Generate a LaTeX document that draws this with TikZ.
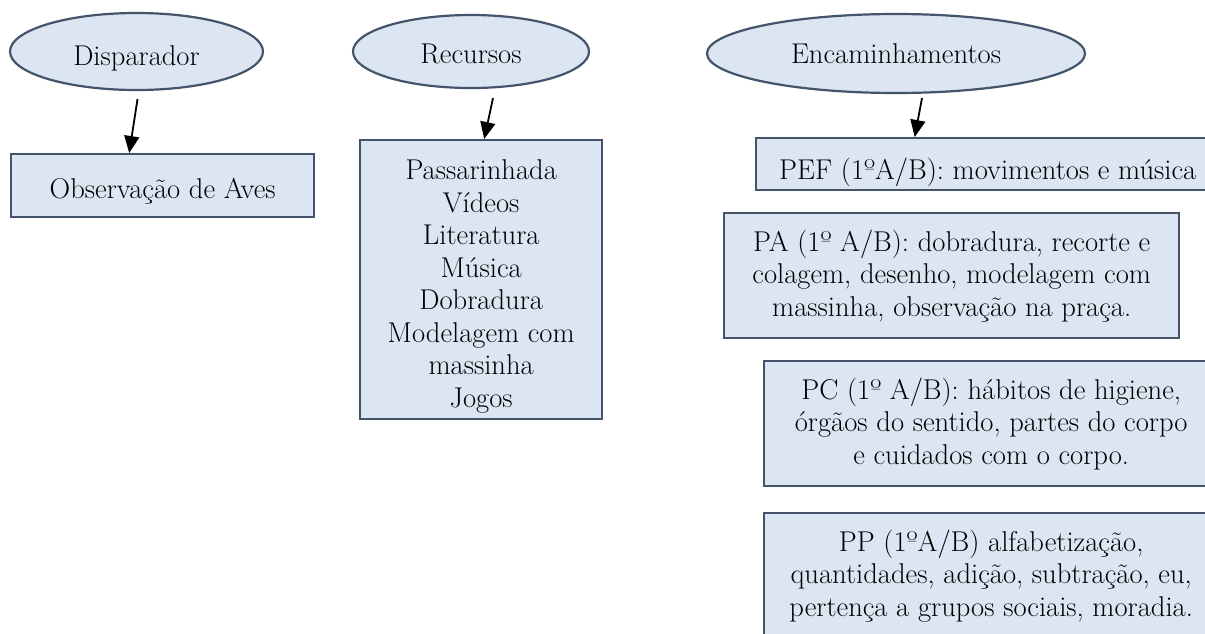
\documentclass[tikz,border=0pt]{standalone}
\usepackage{fontspec}
\usetikzlibrary{shapes.geometric,arrows.meta,calc}
\definecolor{boxfill}{HTML}{DCE6F2}
\definecolor{boxline}{HTML}{44546A}
\tikzset{
  txt/.style={font=\fontsize{28.6}{32.5}\selectfont},
  oval/.style={ellipse, draw=boxline, fill=boxfill, line width=2.2pt, inner sep=0pt, txt},
  card/.style={rectangle, draw=boxline, fill=boxfill, line width=2.4pt, inner sep=0pt,
    align=center, txt, anchor=north west},
  plain/.style={inner sep=0pt, align=center, txt},
  arr/.style={-{Triangle[length=17pt,width=15pt]}, line width=1.8pt, black}
}
\begin{document}
\begin{tikzpicture}[x=1pt,y=-1pt]
\clip (0,0) rectangle (1205,633);
\fill[white] (0,0) rectangle (1205,633);
% ovals
\node[oval, minimum width=253pt, minimum height=77pt, text height=27pt, text depth=0pt] (dis) at (136.5,51.5) {Disparador};
\node[oval, minimum width=236pt, minimum height=73pt, text height=23pt, text depth=0pt] (rec) at (471,51.5) {Recursos};
\node[oval, minimum width=378pt, minimum height=79pt, text height=20pt, text depth=0pt] (enc) at (896,53.5) {Encaminhamentos};
% boxes
\node[card, minimum width=303pt, minimum height=63pt, text height=25pt, text depth=0pt] (obs) at (10,153) {Observação de Aves};
\node[card, minimum width=242pt, minimum height=279pt] (recbox) at (359,139) {};
\node[plain] (rectxt) at ($(recbox.center)+(0,7)$)
  {Passarinhada\\Vídeos\\Literatura\\Música\\Dobradura\\Modelagem com\\massinha\\Jogos};
\node[card, minimum width=463pt, minimum height=52pt, text height=30pt, text depth=0pt] (pef) at (755,137)
  {PEF (1ºA/B): movimentos e música};
\node[card, minimum width=455pt, minimum height=125pt] (pa) at (723,212)
  {PA (1º A/B): dobradura, recorte e\\colagem, desenho, modelagem com\\massinha, observação na praça.};
\node[card, minimum width=454pt, minimum height=125pt] (pc) at (763,360)
  {PC (1º A/B): hábitos de higiene,\\órgãos do sentido, partes do corpo\\e cuidados com o corpo.};
\node[card, minimum width=454pt, minimum height=125pt] (pp) at (763,512)
  {PP (1ºA/B) alfabetização,\\quantidades, adição, subtração, eu,\\pertença a grupos sociais, moradia.};
% arrows
\draw[arr] ($(dis.south)+(1,8)$) -- ($(obs.north)+(-33.5,0)$);
\draw[arr] ($(rec.south)+(22,9)$) -- ($(recbox.north)+(3,0)$);
\draw[arr] ($(enc.south)+(26,4)$) -- ($(pef.north)+(-73,0)$);
\end{tikzpicture}
\end{document}
